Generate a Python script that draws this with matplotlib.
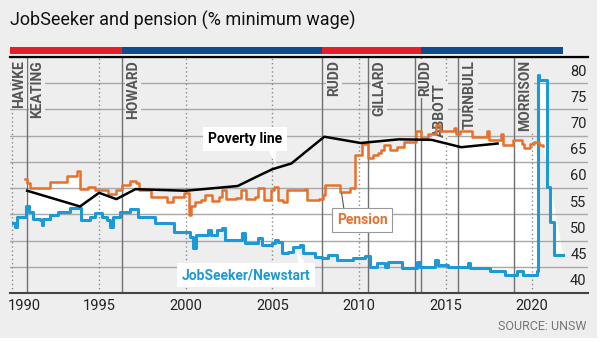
import matplotlib
matplotlib.use("Agg")
import matplotlib.pyplot as plt
from matplotlib import font_manager
from matplotlib.patches import Rectangle
import numpy as np

installed = {f.name for f in font_manager.fontManager.ttflist}
NARROW = "Liberation Sans Narrow" if "Liberation Sans Narrow" in installed else "Roboto"
plt.rcParams["font.family"] = [NARROW, "DejaVu Sans"]

BG = "#eeeeee"
ORANGE = "#e8702a"
BLUE = "#1d9ad6"
RED = "#e3202a"
NAVY = "#104c8c"

# poverty line (% of minimum wage)
pov_years = [1990.85, 1993.9, 1995.0, 1996.0, 1997.1, 2000.0, 2003.0, 2004.3,
             2005.0, 2006.1, 2008.0, 2010.1, 2012.3, 2014.2, 2015.9, 2018.0]
poverty = [57.0, 54.0, 56.6, 55.4, 57.3, 57.0, 57.9, 60.0,
           61.1, 62.2, 67.3, 66.1, 66.8, 66.7, 65.3, 66.0]

# pension, step changes
pen_years = [1990.73, 1990.85, 1991.02, 1992.17, 1993.15, 1993.73, 1993.90, 1994.37,
             1994.77, 1995.06, 1995.50, 1995.95, 1996.30, 1996.80, 1997.15, 1997.30,
             1998.00, 1998.95, 1999.25, 1999.90, 2000.20, 2000.30, 2000.55, 2000.90,
             2001.10, 2001.50, 2001.90, 2002.10, 2002.30, 2002.90, 2003.20, 2003.50,
             2004.00, 2004.20, 2004.50, 2004.90, 2005.10, 2005.30, 2005.60, 2005.85,
             2006.90, 2007.00, 2007.70, 2007.90, 2008.05, 2008.60, 2008.90, 2009.50,
             2009.77, 2010.20, 2010.50, 2010.80, 2011.10, 2011.30, 2011.45, 2011.80,
             2012.20, 2012.60, 2013.30, 2013.60, 2014.00, 2014.45, 2014.65, 2015.50,
             2015.60, 2015.85, 2016.50, 2017.40, 2017.50, 2018.20, 2018.30, 2018.90,
             2019.40, 2019.50, 2019.90, 2020.10, 2020.40, 2020.60]
pension = [59.2, 58.4, 57.5, 58.7, 59.8, 60.8, 57.3, 57.8,
           57.2, 57.1, 56.3, 57.1, 58.1, 58.9, 58.4, 57.1,
           55.9, 54.9, 55.9, 56.6, 52.4, 54.0, 54.9, 55.2,
           56.2, 55.0, 55.9, 57.1, 55.4, 55.6, 57.1, 55.4,
           55.9, 57.5, 55.2, 57.1, 57.8, 55.2, 54.9, 57.1,
           57.3, 55.2, 55.4, 56.2, 58.1, 58.1, 56.8, 57.5,
           63.8, 66.0, 63.2, 63.8, 64.1, 64.8, 65.7, 64.8,
           65.3, 66.3, 68.3, 67.0, 67.9, 69.5, 68.3, 68.9,
           67.9, 68.3, 67.3, 68.3, 66.7, 67.8, 65.7, 66.7,
           66.0, 65.1, 66.0, 66.3, 65.7, 65.5]

# JobSeeker / Newstart, step changes
js_years = [1990.05, 1990.15, 1990.25, 1990.79, 1990.98, 1991.21, 1991.60, 1991.69,
            1991.79, 1992.17, 1992.65, 1993.33, 1993.96, 1994.48, 1994.77, 1995.16,
            1995.45, 1995.64, 1995.79, 1996.21, 1996.80, 1997.27, 1998.20, 1999.30,
            2000.25, 2000.40, 2000.60, 2001.30, 2001.45, 2001.80, 2002.10, 2002.27,
            2003.23, 2003.42, 2004.19, 2004.39, 2004.97, 2005.16, 2005.35, 2005.54,
            2005.92, 2006.21, 2006.60, 2006.79, 2007.46, 2007.85, 2008.23, 2008.72,
            2009.67, 2010.35, 2010.64, 2011.02, 2011.50, 2011.70, 2012.47, 2013.33,
            2013.53, 2014.40, 2014.58, 2015.16, 2016.31, 2016.41, 2017.56, 2018.43,
            2019.10, 2019.48, 2020.26, 2020.35, 2020.42, 2020.85, 2021.02, 2021.25,
            2021.78]
jobseeker = [50.8, 50.1, 52.0, 54.0, 53.0, 51.7, 51.4, 50.5,
             51.7, 52.4, 53.0, 53.7, 51.4, 52.0, 52.7, 51.9,
             51.4, 50.1, 51.9, 53.0, 53.6, 52.0, 50.8, 49.2,
             48.2, 46.0, 48.6, 49.5, 48.6, 49.5, 49.8, 47.6,
             48.9, 47.0, 47.9, 46.7, 47.0, 47.6, 47.3, 45.1,
             45.4, 46.3, 46.7, 45.1, 44.4, 44.1, 44.7, 43.8,
             44.1, 44.6, 42.5, 43.2, 42.5, 43.5, 42.2, 43.5,
             42.5, 43.8, 42.9, 42.5, 43.2, 42.2, 41.6, 40.9,
             41.6, 40.9, 41.6, 79.0, 78.2, 57.8, 51.1, 44.7,
             44.7]

pm_lines = [1990.85, 1996.31, 2007.85, 2010.54, 2013.23, 2013.58, 2015.73, 2018.96]
pm_names = ["HAWKE", "KEATING", "HOWARD", "RUDD", "GILLARD", "RUDD", "ABBOTT", "TURNBULL", "MORRISON"]
pm_label_x = [1989.98, 1991.02, 1996.56, 2008.16, 2010.75, 2013.41, 2014.27, 2015.99, 2019.20]
pm_label_top = [81.9, 81.9, 81.9, 81.9, 81.9, 81.9, 77.5, 81.9, 81.9]

party_start = [1989.86, 1996.31, 2007.85, 2013.58]
party_end = [1996.31, 2007.85, 2013.58, 2021.78]
party_color = [RED, NAVY, RED, NAVY]

x_ticks = [1990, 1995, 2000, 2005, 2010, 2015, 2020]
y_ticks = [40, 45, 50, 55, 60, 65, 70, 75, 80]


def step_at(xq, xs, ys):
    idx = np.searchsorted(xs, xq, side="right") - 1
    return np.asarray(ys)[np.clip(idx, 0, None)]


fig = plt.figure(figsize=(6, 3.42), dpi=100)
fig.patch.set_facecolor("white")
fig.add_artist(Rectangle((0, 4 / 342), 597 / 600, 1, transform=fig.transFigure,
                         color=BG, lw=0, zorder=-10))
ax = fig.add_axes([10 / 600, 1 - 293 / 342, 578 / 600, 236 / 342])
ax.set_facecolor(BG)
ax.set_xlim(1989.86, 2023.22)
ax.set_ylim(37.5, 82.5)

# white band between pension and jobseeker
xq = np.linspace(pen_years[0], js_years[-1], 4000)
upper = np.where(xq <= pen_years[-1], step_at(xq, pen_years, pension),
                 np.interp(xq, [pen_years[-1], js_years[-1]], [pension[-1], jobseeker[-1]]))
lower = step_at(xq, js_years, jobseeker)
ax.fill_between(xq, lower, upper, color="white", lw=0, zorder=0.2)

ax.set_axisbelow(True)
ax.yaxis.tick_right()
ax.set_yticks(y_ticks)
ax.set_yticks(np.arange(42.5, 82.6, 5), minor=True)
ax.grid(which="minor", axis="y", color="#a8a8a8", lw=1)
ax.grid(which="major", visible=False)
ax.tick_params(axis="y", which="both", length=0, pad=-1, labelsize=10.5, colors="#222")
for lab in ax.get_yticklabels():
    lab.set_horizontalalignment("right")

# first year label sits right of its tick, the rest are centred
ax.set_xticks(x_ticks)
ax.set_xticklabels([""] + [str(y) for y in x_ticks[1:]])
ax.tick_params(axis="x", length=0, pad=4, labelsize=10.5, colors="#222")
ax.annotate(str(x_ticks[0]), xy=(x_ticks[0], 0), xycoords=ax.get_xaxis_transform(),
            xytext=(-3, -4), textcoords="offset points", ha="left", va="top",
            fontsize=10.5, color="#222", annotation_clip=False)

for yr in x_ticks:
    ax.axvline(yr, color="#8a8a8a", lw=1, ls=(0, (1, 2)), zorder=0.6)
for x in pm_lines:
    ax.axvline(x, color="#707070", lw=1, zorder=0.6)
for name, x, top in zip(pm_names, pm_label_x, pm_label_top):
    ax.text(x, top, name, rotation=90, ha="left", va="top", fontsize=10,
            fontweight="bold", color="#555555", zorder=0.8,
            bbox=dict(fc=BG, ec="none", pad=1))

for s, e, c in zip(party_start, party_end, party_color):
    ax.add_patch(Rectangle((s, 1.0127), e - s, 0.0297, transform=ax.get_xaxis_transform(),
                           color=c, lw=0, clip_on=False))

ax.plot(js_years, jobseeker, drawstyle="steps-post", color=BLUE, lw=2.2, zorder=3)
ax.plot(pen_years, pension, drawstyle="steps-post", color=ORANGE, lw=1.8, zorder=3)
ax.plot(pov_years, poverty, color="black", lw=1.8, zorder=4)

for side in ["left", "right"]:
    ax.spines[side].set_visible(False)
ax.spines["top"].set_color("black")
ax.spines["top"].set_linewidth(1.6)
ax.spines["bottom"].set_color("#444444")
ax.spines["bottom"].set_linewidth(1.5)

ax.annotate("Poverty line", xy=(2005.2, 62.0), xytext=(2003.42, 66.9),
            ha="center", va="center", fontsize=10, fontweight="bold", color="black",
            bbox=dict(boxstyle="square,pad=0.35", fc="white", ec="none"),
            arrowprops=dict(arrowstyle="wedge,tail_width=0.5", fc="white", ec="none",
                            relpos=(0.85, 0.1), shrinkA=0, shrinkB=0),
            zorder=5)
ax.annotate("Pension", xy=(2009.0, 56.5), xytext=(2010.19, 51.4),
            ha="center", va="center", fontsize=10, fontweight="bold", color=ORANGE,
            bbox=dict(boxstyle="square,pad=0.35", fc="white", ec="#999999", lw=0.8),
            arrowprops=dict(arrowstyle="-", color="#555555", lw=0.8,
                            relpos=(0.15, 1), shrinkA=0, shrinkB=0),
            zorder=5)
ax.annotate("JobSeeker/Newstart", xy=(2006.4, 45.6), xytext=(2003.48, 40.9),
            ha="center", va="center", fontsize=10, fontweight="bold", color=BLUE,
            bbox=dict(boxstyle="square,pad=0.35", fc="white", ec="none"),
            arrowprops=dict(arrowstyle="wedge,tail_width=0.5", fc="white", ec="none",
                            relpos=(0.95, 0.9), shrinkA=0, shrinkB=0),
            zorder=5)

fig.text(10 / 600, 1 - 20 / 342, "JobSeeker and pension (% minimum wage)",
         ha="left", va="center", fontsize=13, color="#111")
fig.text(587 / 600, 1 - 327 / 342, "SOURCE: UNSW", ha="right", va="center",
         fontsize=9, color="#777777")

fig.savefig("out.png", dpi=100, facecolor=fig.get_facecolor())
